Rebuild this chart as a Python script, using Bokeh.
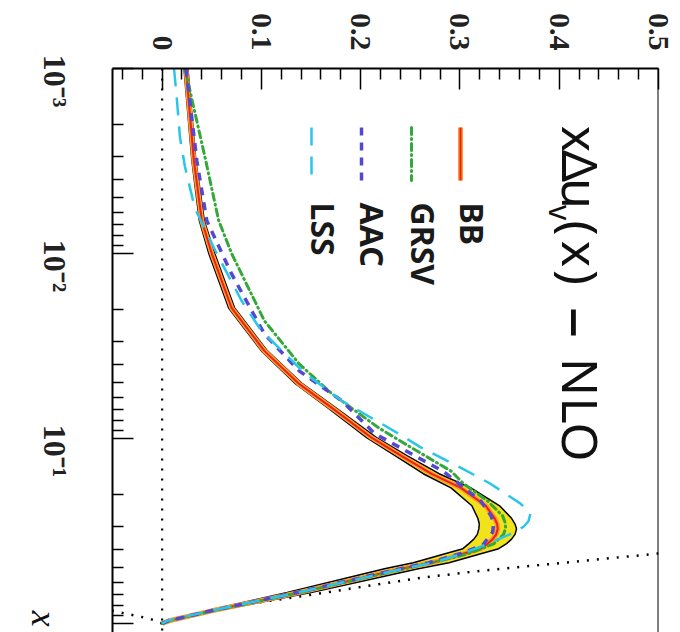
import math
from bokeh.plotting import figure
from bokeh.models import Range1d, FixedTicker, Span, Label, LogAxis
from bokeh.embed import file_html
from bokeh.resources import INLINE

# ---------------- data ----------------
# BB: central curve and error band
bb_x = [0.001, 0.00316, 0.00665, 0.01, 0.0197, 0.0336, 0.0507, 0.0683, 0.099, 0.124,
        0.155, 0.185, 0.231, 0.27, 0.29, 0.308, 0.33, 0.35, 0.37, 0.394, 0.42, 0.47, 0.506,
        0.68, 0.854, 0.967, 1.0]
bb_c = [0.024, 0.032, 0.040, 0.050, 0.070, 0.103, 0.138, 0.171, 0.211, 0.241,
        0.271, 0.301, 0.326, 0.335, 0.3375, 0.338, 0.3365, 0.333, 0.328, 0.321, 0.303, 0.271, 0.241,
        0.138, 0.050, 0.007, 0.0]
bb_lo = [0.022, 0.030, 0.0375, 0.047, 0.067, 0.100, 0.1345, 0.167, 0.206, 0.235,
         0.263, 0.291, 0.312, 0.318, 0.3195, 0.319, 0.3175, 0.314, 0.309, 0.303, 0.285, 0.253, 0.224,
         0.126, 0.045, 0.005, 0.0]
bb_hi = [0.026, 0.034, 0.0425, 0.053, 0.073, 0.106, 0.1415, 0.175, 0.216, 0.247,
         0.279, 0.311, 0.340, 0.352, 0.3555, 0.357, 0.3555, 0.352, 0.347, 0.339, 0.321, 0.289, 0.258,
         0.150, 0.055, 0.009, 0.0]

# GRSV
grsv_x = [0.001, 0.00316, 0.00665, 0.01, 0.0231, 0.0395, 0.0573, 0.0875, 0.112, 0.150,
          0.176, 0.218, 0.262, 0.285, 0.304, 0.33, 0.371, 0.42, 0.458, 0.506, 0.68, 0.854, 0.967, 1.0]
grsv_v = [0.023, 0.044, 0.057, 0.070, 0.103, 0.138, 0.171, 0.218, 0.251, 0.291,
          0.304, 0.328, 0.343, 0.3455, 0.346, 0.344, 0.334, 0.308, 0.280, 0.244, 0.139, 0.051, 0.007, 0.0]

# AAC
aac_x = [0.001, 0.00316, 0.00665, 0.0129, 0.0272, 0.0431, 0.0625, 0.094, 0.121, 0.1515,
         0.218, 0.26, 0.286, 0.32, 0.377, 0.42, 0.47, 0.506, 0.68, 0.854, 0.967, 1.0]
aac_v = [0.024, 0.035, 0.045, 0.070, 0.103, 0.138, 0.181, 0.214, 0.251, 0.284,
         0.321, 0.331, 0.334, 0.333, 0.323, 0.300, 0.268, 0.240, 0.136, 0.049, 0.006, 0.0]

# LSS
lss_x = [0.001, 0.0015, 0.00237, 0.0034, 0.0057, 0.01, 0.018, 0.0262, 0.0445, 0.0625,
         0.094, 0.112, 0.144, 0.176, 0.225, 0.254, 0.28, 0.30, 0.33, 0.371, 0.42, 0.47, 0.506,
         0.68, 0.854, 0.967, 1.0]
lss_v = [0.012, 0.015, 0.018, 0.023, 0.033, 0.055, 0.080, 0.100, 0.144, 0.181,
         0.238, 0.261, 0.301, 0.331, 0.361, 0.371, 0.369, 0.364, 0.350, 0.328, 0.302, 0.272, 0.243,
         0.137, 0.049, 0.005, 0.0]

# dotted positivity bound |x du_v| <= B(x)
bound_x = [0.41, 0.42, 0.519, 0.566, 0.61, 0.72, 0.80, 0.865, 0.943, 1.0]
bound_v = [0.51, 0.497, 0.321, 0.261, 0.221, 0.135, 0.075, 0.045, 0.012, 0.0]
bound_neg = [-b for b in bound_v]

val_ticks = [0, 0.1, 0.2, 0.3, 0.4, 0.5]
val_tick_labels = ["0", "0.1", "0.2", "0.3", "0.4", "0.5"]
val_minor = [-0.04, -0.02, 0.02, 0.04, 0.06, 0.08, 0.12, 0.14, 0.16, 0.18, 0.22, 0.24,
             0.26, 0.28, 0.32, 0.34, 0.36, 0.38, 0.42, 0.44, 0.46, 0.48]
x_ticks = [0.001, 0.01, 0.1, 1.0]
x_minor = [m * d for d in (0.001, 0.01, 0.1) for m in range(2, 10)]
x_tick_labels = ["10\u207b\u00b3", "10\u207b\u00b2", "10\u207b\u00b9"]

series_names = ["BB", "GRSV", "AAC", "LSS"]

# ---------------- layout helpers (page pixels -> data, for annotations) ----------------
W, H = 680, 632
FL, FT, FR = 112, 68, 658
X0, X1 = -0.05, 0.5
DEC = 185.0
Y_END = 10 ** ((H - FT) / DEC - 3)


def vx(px):
    return X0 + (px - FL) * (X1 - X0) / (FR - FL)


def vy(py):
    return 10 ** (-3 + (py - FT) / DEC)


ROT = -math.pi / 2

p = figure(width=W, height=H, output_backend="svg", toolbar_location=None,
           y_axis_type="log", x_axis_location="above",
           x_range=Range1d(X0, X1), y_range=Range1d(Y_END, 0.001),
           min_border_left=FL, min_border_right=W - FR, min_border_top=FT, min_border_bottom=0,
           background_fill_color="white", border_fill_color="white")
p.outline_line_color = None
p.grid.visible = False

xa = p.xaxis[0]
xa.ticker = FixedTicker(ticks=val_ticks, minor_ticks=val_minor)
xa.major_label_overrides = dict(zip(val_ticks, val_tick_labels))
ya = p.yaxis[0]
ya.ticker = FixedTicker(ticks=x_ticks, minor_ticks=x_minor)
ya.major_label_overrides = {t: "" for t in x_ticks}
for ax in (xa, ya):
    ax.major_tick_in = 21
    ax.major_tick_out = 0
    ax.minor_tick_in = 11
    ax.minor_tick_out = 0
    ax.axis_line_width = 2
    ax.axis_line_color = "black"
    ax.major_tick_line_width = 1.5
    ax.minor_tick_line_width = 1.5
    ax.major_label_orientation = ROT
    ax.major_label_text_font = "Liberation Serif"
    ax.major_label_text_font_style = "bold"
    ax.major_label_text_font_size = "30px"
    ax.major_label_text_color = "#222222"
xa.major_label_standoff = 18
ya.major_label_standoff = 0
ya.major_label_text_font_size = "1px"

# decade labels: a label-only axis whose rotated labels are shifted along the axis
lab_pos = [0.00162, 0.0162, 0.162]
lab_axis = LogAxis(ticker=FixedTicker(ticks=lab_pos),
                   major_label_overrides=dict(zip(lab_pos, x_tick_labels)),
                   major_tick_in=0, major_tick_out=0, minor_tick_in=0, minor_tick_out=0,
                   axis_line_color=None, major_tick_line_color=None, minor_tick_line_color=None,
                   major_label_orientation=ROT, major_label_standoff=58,
                   major_label_text_font="Liberation Serif", major_label_text_font_style="bold",
                   major_label_text_font_size="32px", major_label_text_color="#222222")
p.add_layout(lab_axis, "left")

# axis title "x" at the bottom-left, as a label-only axis pulled inwards
name_pos = [1.04]
name_axis = LogAxis(ticker=FixedTicker(ticks=name_pos),
                    major_label_overrides={name_pos[0]: "x"},
                    major_tick_in=0, major_tick_out=0, minor_tick_in=0, minor_tick_out=0,
                    axis_line_color=None, major_tick_line_color=None, minor_tick_line_color=None,
                    major_label_orientation=ROT, major_label_standoff=-28,
                    major_label_text_font="Liberation Serif", major_label_text_font_style="italic",
                    major_label_text_font_size="36px", major_label_text_color="#111111")
p.add_layout(name_axis, "left")

# frame right side and zero line
p.add_layout(Span(location=X1, dimension="height", line_color="black", line_width=2))
p.add_layout(Span(location=0, dimension="height", line_color="black",
                  line_width=2.2, line_dash="2 8"))

# dotted bound
p.line(bound_v, bound_x, line_color="black", line_width=2.5, line_dash="2 8")
p.line(bound_neg, bound_x, line_color="black", line_width=2.5, line_dash="2 8")

# BB band + curve
p.harea(y=bb_x, x1=bb_lo, x2=bb_hi, fill_color="#f2e21a", fill_alpha=1.0)
p.line(bb_lo, bb_x, line_color="black", line_width=1.5)
p.line(bb_hi, bb_x, line_color="black", line_width=1.5)
p.line(bb_c, bb_x, line_color="#ff9a2e", line_width=5)
p.line(bb_c, bb_x, line_color="#e8221c", line_width=2)

# other parametrisations
p.line(grsv_v, grsv_x, line_color="#34a83a", line_width=3, line_dash="7 4 1 4", line_cap="round")
p.line(aac_v, aac_x, line_color="#5548d0", line_width=3.5, line_dash="8 7")
p.line(lss_v, lss_x, line_color="#2ac6e8", line_width=2.5, line_dash="18 11")

# legend (rotated, drawn by hand)
leg_y0, leg_y1 = vy(127), vy(180)
leg_lines = [vx(460), vx(411), vx(361), vx(311)]
leg_text = [vx(472), vx(423), vx(372), vx(323)]
p.segment(x0=[leg_lines[0]], y0=[leg_y0], x1=[leg_lines[0]], y1=[leg_y1], line_color="#ff9a2e", line_width=5)
p.segment(x0=[leg_lines[0]], y0=[leg_y0], x1=[leg_lines[0]], y1=[leg_y1], line_color="#e8221c", line_width=2)
p.segment(x0=[leg_lines[1]], y0=[leg_y0], x1=[leg_lines[1]], y1=[leg_y1], line_color="#34a83a",
          line_width=3, line_dash="7 4 1 4", line_cap="round")
p.segment(x0=[leg_lines[2]], y0=[leg_y0], x1=[leg_lines[2]], y1=[leg_y1], line_color="#5548d0",
          line_width=3.5, line_dash="8 7")
p.segment(x0=[leg_lines[3]], y0=[leg_y0], x1=[leg_lines[3]], y1=[leg_y1], line_color="#2ac6e8",
          line_width=2.5, line_dash="18 11")
for name, xv in zip(series_names, leg_text):
    p.add_layout(Label(x=xv, y=vy(202), text=name, angle=ROT,
                       text_font="Noto Sans", text_font_style="bold", text_font_size="32px",
                       text_align="left", text_baseline="middle", text_color="#1a1a1a"))

# title, glyph by glyph (rotated)
tfont = "Noto Sans"
title_parts = [("x", 138.5, 50), ("Δ", 165.5, 50), ("u", 193, 50), ("(", 227.5, 50),
               ("x", 253.5, 50), (")", 277, 50), ("–", 322, 62), ("N", 376.5, 50),
               ("L", 410, 50), ("O", 441.5, 50)]
for ch, cy, fs in title_parts:
    p.add_layout(Label(x=vx(580), y=vy(cy), text=ch, angle=ROT, text_font=tfont,
                       text_font_size=f"{fs}px", text_align="center", text_baseline="middle",
                       text_color="#111111"))
p.add_layout(Label(x=vx(560), y=vy(212), text="v", angle=ROT, text_font=tfont,
                   text_font_size="30px", text_align="center", text_baseline="middle",
                   text_color="#111111"))

open("out.html", "w").write(file_html(p, INLINE))
